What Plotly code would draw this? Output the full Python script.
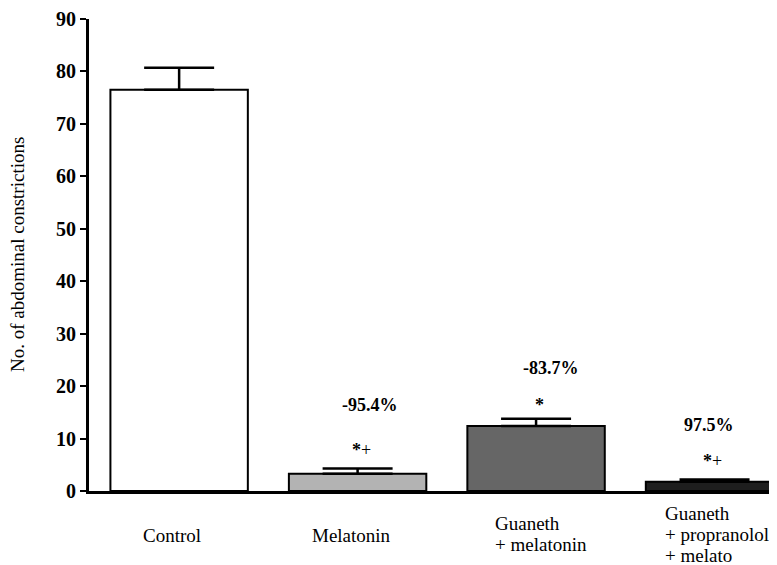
import plotly.graph_objects as go

categories = ["Control", "Melatonin", "Guaneth<br>+ melatonin", "Guaneth<br>+ propranolol<br>+ melato"]
values = [76.5, 3.3, 12.4, 1.75]
errors = [4.2, 1.0, 1.4, 0.45]
bar_colors = ["#ffffff", "#b3b3b3", "#666666", "#1e1e1e"]
percent_labels = ["", "-95.4%", "-83.7%", "97.5%"]
sig_labels = ["", "*+", "*", "*+"]
y_ticks = [0, 10, 20, 30, 40, 50, 60, 70, 80, 90]
y_title = "No. of abdominal constrictions"

xpos = list(range(len(categories)))
FONT = "Liberation Serif"

fig = go.Figure()
fig.add_trace(go.Bar(
    x=xpos, y=values, width=0.77,
    marker=dict(color=bar_colors, line=dict(color="black", width=2)),
    error_y=dict(type="data", symmetric=False, array=errors, arrayminus=[0]*len(errors),
                 color="black", thickness=2.5, width=35),
    showlegend=False,
))

ann = []
pct_y = [None, 16.4, 23.5, 12.6]
sig_y = [None, 7.8, 16.4, 5.7]
pct_dx = [0, 12, 15, -6]
sig_dx = [0, 4, 3, -2]
for i in range(len(categories)):
    if percent_labels[i]:
        ann.append(dict(x=xpos[i], y=pct_y[i], xref="x", yref="y", text="<b>" + percent_labels[i] + "</b>",
                        showarrow=False, xshift=pct_dx[i], font=dict(family=FONT, size=18, color="black")))
    if sig_labels[i]:
        t = sig_labels[i].replace("*", "<b>*</b>")
        ann.append(dict(x=xpos[i], y=sig_y[i], xref="x", yref="y", text=t,
                        showarrow=False, xshift=sig_dx[i], font=dict(family=FONT, size=18, color="black")))

# category labels, one annotation per line
cat_anchor = ["center", "center", "left", "left"]
cat_dx = [-7, -6, -43, -52]
cat_mid = [535, 535, 533.5, 534.5]
line_gap = 21
for i, c in enumerate(categories):
    lines = c.split("<br>")
    n = len(lines)
    for j, ln in enumerate(lines):
        yc = cat_mid[i] + (j - (n - 1) / 2) * line_gap
        ann.append(dict(x=xpos[i], y=0, xref="x", yref="y", yanchor="middle",
                        xanchor=cat_anchor[i], xshift=cat_dx[i], yshift=-(yc - 491),
                        text=ln, showarrow=False, font=dict(family=FONT, size=19, color="black")))

ann.append(dict(x=0, y=0.5, xref="paper", yref="paper", xshift=-72, textangle=-90,
                xanchor="center", yanchor="middle", text=y_title, showarrow=False,
                font=dict(family=FONT, size=19, color="black")))

fig.update_layout(
    width=769, height=557,
    margin=dict(l=81, r=0, t=11, b=74),
    plot_bgcolor="white", paper_bgcolor="white",
    font=dict(family=FONT, color="black"),
    annotations=ann,
)
fig.update_xaxes(range=[-0.505, 3.35], showticklabels=False, ticks="", showgrid=False,
                 showline=True, linecolor="black", linewidth=3, zeroline=False)
fig.update_yaxes(range=[0, 90], tickvals=y_ticks, ticktext=["<b>%d</b>" % t for t in y_ticks],
                 ticks="outside", ticklen=6, tickwidth=2, tickcolor="black",
                 showline=True, linecolor="black", linewidth=3, showgrid=False, zeroline=False,
                 tickfont=dict(family=FONT, size=20, color="black"))

fig.write_html("out.html")
